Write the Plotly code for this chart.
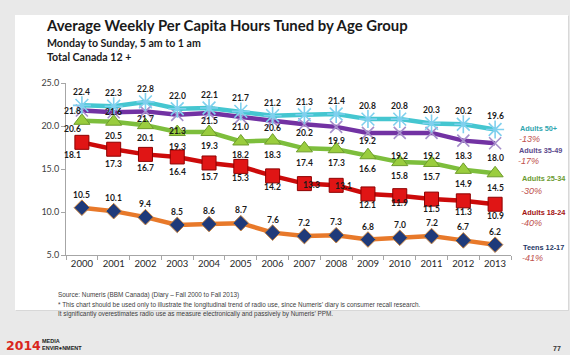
import plotly.graph_objects as go

years = list(range(2000, 2014))
adults_50 = [22.4, 22.3, 22.8, 22.0, 22.1, 21.7, 21.2, 21.3, 21.4, 20.8, 20.8, 20.3, 20.2, 19.6]
adults_35_49 = [21.8, 21.6, 21.7, 21.3, 21.5, 21.0, 20.6, 20.2, 19.9, 19.2, 19.2, 19.2, 18.3, 18.0]
adults_25_34 = [20.6, 20.5, 20.1, 19.3, 19.3, 18.2, 18.3, 17.4, 17.3, 16.6, 15.8, 15.7, 14.9, 14.5]
adults_18_24 = [18.1, 17.3, 16.7, 16.4, 15.7, 15.3, 14.2, 13.3, 13.1, 12.1, 11.9, 11.5, 11.3, 10.9]
teens_12_17 = [10.5, 10.1, 9.4, 8.5, 8.6, 8.7, 7.6, 7.2, 7.3, 6.8, 7.0, 7.2, 6.7, 6.2]

series_names = ["Adults 50+", "Adults 35-49", "Adults 25-34", "Adults 18-24", "Teens 12-17"]
changes = ["-13%", "-17%", "-30%", "-40%", "-41%"]
y_ticks = [5.0, 10.0, 15.0, 20.0, 25.0]

W, H = 570, 355
L, R, T, B = 66, 511, 83, 255  # plot area in pixels

def px(x):
    return (x - L) / (R - L)

def py(y):
    return (B - y) / (B - T)

styles = [
    dict(data=adults_50, line="#45C6D0", marker=dict(symbol="asterisk-open", size=15, color="#7FD0EE",
         line=dict(color="#7FD0EE", width=1.6)), off=[-13] * 14, dx=[0] * 14),
    dict(data=adults_35_49, line="#7232A3", marker=dict(symbol="x-thin-open", size=12, color="#A58FCB",
         line=dict(color="#A58FCB", width=1.6)), off=[0, 0, 8, 16, 8, 10, 7, 9, 14, 8, 23, 23, 15, 15],
         dx=[-9] + [0] * 13),
    dict(data=adults_25_34, line="#7DBE3C", marker=dict(symbol="triangle-up", size=14, color="#9ACD3E",
         line=dict(color="#6E9C2B", width=1)), off=[8, 14, 13, 15, 14, 14, 14, 15, 14, 14, 14, 14, 14, 15],
         dx=[-9] + [0] * 13),
    dict(data=adults_18_24, line="#CC0A0A", marker=dict(symbol="square", size=14, color="#E01515",
         line=dict(color="#8E0000", width=1)), off=[13, 15, 14, 15, 14, 12, 11, 1, 1, 11, 7, 10, 11, 12],
         dx=[-9, 0, 0, 0, 0, 0, 0, 7, 7, 0, 0, 0, 0, 0]),
    dict(data=teens_12_17, line="#E8792A", marker=dict(symbol="diamond", size=12, color="#1F3A7A",
         line=dict(color="#C9843F", width=1)), off=[-13] * 14, dx=[0] * 14),
]

fig = go.Figure()

for name, st in reversed(list(zip(series_names, styles))):
    fig.add_trace(go.Scatter(
        x=years, y=st["data"], name=name, mode="lines+markers",
        line=dict(color=st["line"], width=4.5),
        marker=st["marker"], showlegend=False, cliponaxis=False, hoverinfo="skip",
    ))

annotations = []
for st in styles:
    for x, v, o, d in zip(years, st["data"], st["off"], st["dx"]):
        annotations.append(dict(
            x=x, y=v, xref="x", yref="y", text=f"<b>{v:.1f}</b>", showarrow=False,
            yshift=-o, xshift=d, font=dict(family="Lato", size=8.5, color="#1a1a1a"),
        ))

# right-side series labels
label_colors = ["#2FA5AE", "#5C4A8C", "#6A9A30", "#A31212", "#1F3864"]
label_y = [128, 150, 178, 212, 247]
pct_y = [139, 161, 191, 223, 258]
label_x = [518, 517, 520, 520, 521]
side_font = "Liberation Sans"
for nm, ch, c, ly, pyv, lx in zip(series_names, changes, label_colors, label_y, pct_y, label_x):
    annotations.append(dict(x=px(lx), y=py(ly), xref="paper", yref="paper", text=f"<b>{nm}</b>",
                            showarrow=False, xanchor="left", yanchor="middle",
                            font=dict(family=side_font, size=7.3, color=c)))
    annotations.append(dict(x=px(lx - 1), y=py(pyv), xref="paper", yref="paper", text=f"<i>{ch}</i>",
                            showarrow=False, xanchor="left", yanchor="middle",
                            font=dict(family=side_font, size=9, color="#C0504D")))

# titles
annotations.append(dict(x=px(44), y=py(25), xref="paper", yref="paper",
                        text="<b>Average Weekly Per Capita Hours Tuned by Age Group</b>",
                        showarrow=False, xanchor="left", yanchor="middle",
                        font=dict(family="Lato", size=14.9, color="#1a1a1a")))
annotations.append(dict(x=px(45), y=py(43), xref="paper", yref="paper",
                        text="<b>Monday to Sunday, 5 am to 1 am</b>",
                        showarrow=False, xanchor="left", yanchor="middle",
                        font=dict(family="Lato", size=10.6, color="#1a1a1a")))
annotations.append(dict(x=px(45), y=py(57), xref="paper", yref="paper",
                        text="<b>Total Canada 12 +</b>",
                        showarrow=False, xanchor="left", yanchor="middle",
                        font=dict(family="Lato", size=10.6, color="#1a1a1a")))

# footnotes
notes = [
    "Source: Numeris (BBM Canada) (Diary \u2013 Fall 2000 to Fall 2013)",
    "* This chart should be used only to illustrate the longitudinal trend of radio use, since Numeris\u2019 diary is consumer recall research.",
    "It significantly overestimates radio use as measure electronically and passively by Numeris\u2019 PPM.",
]
for i, n in enumerate(notes):
    annotations.append(dict(x=px(56), y=py(295 + i * 9.5), xref="paper", yref="paper", text=n,
                            showarrow=False, xanchor="left", yanchor="middle",
                            font=dict(family="Liberation Sans", size=6.4, color="#404040")))

# logo and page number
annotations.append(dict(x=px(4), y=py(345), xref="paper", yref="paper",
                        text="<b>2014</b>", showarrow=False, xanchor="left", yanchor="middle",
                        font=dict(family="DejaVu Sans", size=12.5, color="#D9261C")))
annotations.append(dict(x=px(40), y=py(341), xref="paper", yref="paper",
                        text="<b>MEDIA</b>", showarrow=False, xanchor="left", yanchor="middle",
                        font=dict(family="Liberation Sans", size=5.5, color="#222222")))
annotations.append(dict(x=px(40), y=py(348), xref="paper", yref="paper",
                        text="<b>ENVIR\u25cfNMENT</b>", showarrow=False, xanchor="left", yanchor="middle",
                        font=dict(family="Liberation Sans", size=5.5, color="#222222")))
annotations.append(dict(x=px(557), y=py(348), xref="paper", yref="paper",
                        text="<b>77</b>", showarrow=False, xanchor="center", yanchor="middle",
                        font=dict(family="Liberation Sans", size=7, color="#333333")))

shapes = [
    dict(type="rect", xref="paper", yref="paper", x0=px(16), x1=px(569), y0=py(311), y1=py(16),
         fillcolor="#d8d8d8", line=dict(width=0), layer="below"),
    dict(type="rect", xref="paper", yref="paper", x0=px(15), x1=px(568), y0=py(310), y1=py(15),
         fillcolor="white", line=dict(width=0), layer="below"),
]

fig.update_layout(
    width=W, height=H, autosize=False,
    margin=dict(l=L, r=W - R, t=T, b=H - B, pad=0),
    paper_bgcolor="#e9e9e9", plot_bgcolor="rgba(0,0,0,0)",
    annotations=annotations, shapes=shapes, hovermode=False,
    xaxis=dict(range=[1999.5, 2013.5], tickmode="array", tickvals=years,
               ticktext=[str(y) for y in years], ticks="", showgrid=False, zeroline=False,
               showline=True, linecolor="#a6a6a6", linewidth=1,
               tickfont=dict(family="Lato", size=9.5, color="#262626"),
               minor=dict(tickvals=[y - 0.5 for y in years] + [2013.5], ticks="outside",
                          ticklen=4, tickcolor="#a6a6a6", showgrid=False)),
    yaxis=dict(range=[5, 25], tickmode="array", tickvals=y_ticks,
               ticktext=[f"{v:.1f}" for v in y_ticks], ticks="outside", ticklen=4,
               tickcolor="#a6a6a6", showgrid=False, zeroline=False,
               showline=True, linecolor="#a6a6a6", linewidth=1,
               tickfont=dict(family="Lato", size=9, color="#404040")),
)

fig.write_html("out.html", config={"displayModeBar": False},
               post_script="document.body.style.margin='0';document.body.style.overflow='hidden';")
